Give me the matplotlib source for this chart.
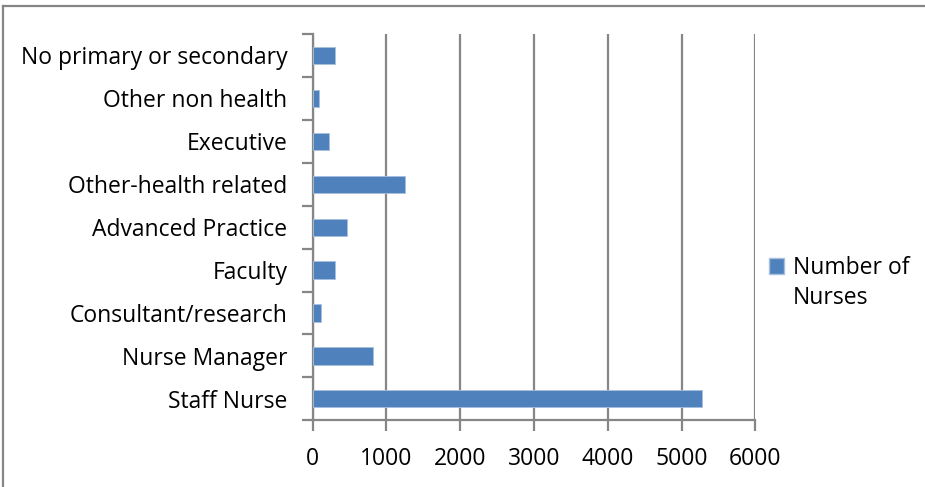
import matplotlib
matplotlib.use("Agg")
import matplotlib.pyplot as plt
from matplotlib.lines import Line2D
from matplotlib.patches import Patch

categories = ["Staff Nurse", "Nurse Manager", "Consultant/research", "Faculty",
              "Advanced Practice", "Other-health related", "Executive",
              "Other non health", "No primary or secondary"]
nurses = [5280, 825, 120, 310, 470, 1250, 225, 92, 310]
x_ticks = [0, 1000, 2000, 3000, 4000, 5000, 6000]

bar_color = "#4f81bd"
axis_gray = "#868686"

plt.rcParams['font.family'] = ['Open Sans', 'DejaVu Sans']

fig = plt.figure(figsize=(9.25, 4.87), dpi=100)
ax = fig.add_axes([312.5 / 925, 1 - 420.3 / 487, (755.3 - 312.5) / 925, (420.3 - 34) / 487])

ypos = list(range(len(categories)))
ax.barh(ypos, nurses, height=0.4, color=bar_color, edgecolor="#a7c0de", linewidth=0.6, zorder=3)

ax.set_xlim(0, 6000)
ax.set_ylim(-0.5, len(categories) - 0.5)
ax.set_xticks(x_ticks)
ax.set_xticklabels([str(t) for t in x_ticks], fontsize=16.5)
ax.set_yticks(ypos)
ax.set_yticklabels(categories, fontsize=16.5)
ax.tick_params(axis="y", length=0, pad=18)
ax.set_yticks([i - 0.5 for i in range(len(categories) + 1)], minor=True)
ax.tick_params(axis="y", which="minor", length=8, width=1.6, color=axis_gray)
ax.tick_params(axis="x", length=8, width=1.6, color=axis_gray, pad=11)

ax.grid(axis="x", color=axis_gray, linewidth=1.6, zorder=0)
for s in ["top", "right"]:
    ax.spines[s].set_visible(False)
for s in ["left", "bottom"]:
    ax.spines[s].set_color(axis_gray)
    ax.spines[s].set_linewidth(1.6)

# legend: handle sits beside the first line, second line underneath
handle = Patch(facecolor=bar_color, edgecolor="#a7c0de")
leg = fig.legend([handle], ["Number of"], loc="center left", bbox_to_anchor=(748 / 925, 1 - 268 / 487),
                 frameon=False, fontsize=16.5, handlelength=0.65, handleheight=0.65, handletextpad=0.4)
fig.text(793 / 925, 1 - 298 / 487, "Nurses", fontsize=16.5, va="center", ha="left")

# outer chart border (top and left visible)
fig.add_artist(Line2D([3 / 925, 3 / 925], [0, 1 - 5.5 / 487], transform=fig.transFigure, color=axis_gray, linewidth=1.6))
fig.add_artist(Line2D([3 / 925, 1], [1 - 5.5 / 487, 1 - 5.5 / 487], transform=fig.transFigure, color=axis_gray, linewidth=1.6))

fig.savefig("out.png", dpi=100)
